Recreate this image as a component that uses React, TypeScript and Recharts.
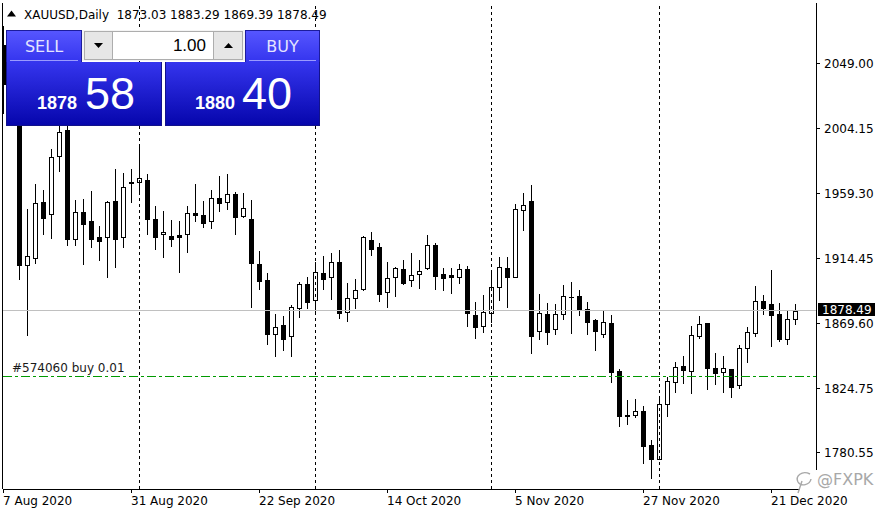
import React from 'react';
import { ComposedChart, Bar, XAxis, YAxis, ReferenceLine } from 'recharts';

const dates = [
  '7 Aug 2020','10 Aug 2020','11 Aug 2020','12 Aug 2020','13 Aug 2020','14 Aug 2020','17 Aug 2020','18 Aug 2020','19 Aug 2020','20 Aug 2020',
  '21 Aug 2020','24 Aug 2020','25 Aug 2020','26 Aug 2020','27 Aug 2020','28 Aug 2020','31 Aug 2020','1 Sep 2020','2 Sep 2020','3 Sep 2020',
  '4 Sep 2020','7 Sep 2020','8 Sep 2020','9 Sep 2020','10 Sep 2020','11 Sep 2020','14 Sep 2020','15 Sep 2020','16 Sep 2020','17 Sep 2020',
  '18 Sep 2020','21 Sep 2020','22 Sep 2020','23 Sep 2020','24 Sep 2020','25 Sep 2020','28 Sep 2020','29 Sep 2020','30 Sep 2020','1 Oct 2020',
  '2 Oct 2020','5 Oct 2020','6 Oct 2020','7 Oct 2020','8 Oct 2020','9 Oct 2020','12 Oct 2020','13 Oct 2020','14 Oct 2020','15 Oct 2020',
  '16 Oct 2020','19 Oct 2020','20 Oct 2020','21 Oct 2020','22 Oct 2020','23 Oct 2020','26 Oct 2020','27 Oct 2020','28 Oct 2020','29 Oct 2020',
  '30 Oct 2020','2 Nov 2020','3 Nov 2020','4 Nov 2020','5 Nov 2020','6 Nov 2020','9 Nov 2020','10 Nov 2020','11 Nov 2020','12 Nov 2020',
  '13 Nov 2020','16 Nov 2020','17 Nov 2020','18 Nov 2020','19 Nov 2020','20 Nov 2020','23 Nov 2020','24 Nov 2020','25 Nov 2020','26 Nov 2020',
  '27 Nov 2020','30 Nov 2020','1 Dec 2020','2 Dec 2020','3 Dec 2020','4 Dec 2020','7 Dec 2020','8 Dec 2020','9 Dec 2020','10 Dec 2020',
  '11 Dec 2020','14 Dec 2020','15 Dec 2020','16 Dec 2020','17 Dec 2020','18 Dec 2020','21 Dec 2020','22 Dec 2020','23 Dec 2020','24 Dec 2020',
];

const opens = [
  2062, 2035, 2028, 1910.5, 1915.0, 1953.8, 1945.3, 1985.3, 2003.5, 1928.0,
  1946.7, 1940.7, 1929.6, 1929.8, 1954.5, 1929.4, 1966.9, 1967.4, 1968.8, 1941.8,
  1931.5, 1930.1, 1931.0, 1931.5, 1946.2, 1945.0, 1940.9, 1956.3, 1953.8, 1959.1,
  1944.3, 1942.3, 1911.0, 1899.9, 1862.7, 1868.9, 1861.1, 1880.4, 1897.0, 1885.9,
  1904.6, 1901.8, 1912.2, 1878.1, 1887.3, 1893.5, 1927.4, 1922.5, 1891.5, 1901.8,
  1907.3, 1899.8, 1903.9, 1908.0, 1923.9, 1903.9, 1903.2, 1901.8, 1907.5, 1875.6,
  1868.2, 1877.0, 1895.4, 1908.0, 1902.2, 1948.1, 1954.5, 1864.6, 1876.3, 1866.0,
  1876.3, 1888.0, 1888.7, 1879.8, 1872.2, 1862.5, 1870.1, 1837.0, 1807.0, 1807.0,
  1809.4, 1785.9, 1776.4, 1814.2, 1829.6, 1840.4, 1837.4, 1861.3, 1870.1, 1838.8,
  1836.3, 1838.3, 1827.5, 1852.8, 1863.2, 1885.3, 1883.2, 1876.3, 1859.5, 1873.03,
];

const highs = [
  2075, 2049, 2031, 1949.0, 1966.2, 1962.1, 1990.4, 2010, 2015, 1955.2,
  1955.9, 1961.4, 1937.2, 1954.5, 1976.5, 1973.8, 1976.5, 1992.4, 1972.9, 1950.8,
  1947.6, 1941.3, 1940.7, 1951.0, 1966.2, 1954.7, 1962.1, 1971.7, 1973.1, 1960.7,
  1960.0, 1955.2, 1920.0, 1904.6, 1876.5, 1875.1, 1882.7, 1898.6, 1902.0, 1912.6,
  1916.5, 1918.8, 1920.7, 1897.7, 1900.4, 1930.1, 1933.1, 1925.3, 1912.2, 1909.1,
  1913.8, 1918.4, 1913.8, 1930.8, 1925.3, 1908.5, 1908.5, 1911.0, 1909.8, 1884.6,
  1889.4, 1904.6, 1915.8, 1915.6, 1952.4, 1959.8, 1965.5, 1890.3, 1883.9, 1883.4,
  1896.3, 1898.4, 1893.1, 1884.8, 1873.3, 1879.1, 1875.6, 1838.3, 1817.2, 1817.6,
  1813.2, 1789.3, 1818.1, 1832.8, 1843.4, 1847.5, 1868.2, 1875.1, 1870.5, 1849.4,
  1847.5, 1838.5, 1855.1, 1867.7, 1895.8, 1889.6, 1906.9, 1883.9, 1878.4, 1883.29,
];

const lows = [
  2015, 2009, 1900.9, 1862.2, 1911.9, 1931.9, 1929.1, 1975.4, 1924.3, 1924.3,
  1911.2, 1922.9, 1914.0, 1902.2, 1909.1, 1922.9, 1954.0, 1961.6, 1931.9, 1921.5,
  1916.0, 1923.4, 1905.7, 1919.5, 1940.9, 1936.5, 1936.0, 1947.8, 1949.2, 1931.9,
  1943.6, 1881.5, 1893.8, 1855.6, 1847.7, 1851.7, 1847.7, 1874.6, 1880.9, 1878.8,
  1893.5, 1886.6, 1874.0, 1871.9, 1880.9, 1893.0, 1917.4, 1885.6, 1881.5, 1889.1,
  1897.0, 1896.0, 1894.2, 1907.5, 1893.9, 1893.1, 1890.8, 1897.7, 1868.4, 1859.8,
  1863.9, 1870.8, 1886.2, 1881.1, 1901.8, 1934.5, 1849.8, 1859.5, 1855.6, 1862.5,
  1873.3, 1863.6, 1876.0, 1862.9, 1851.9, 1860.2, 1829.8, 1799.4, 1800.8, 1805.0,
  1773.5, 1763.5, 1776.0, 1806.3, 1822.9, 1828.7, 1821.8, 1859.8, 1824.5, 1828.0,
  1822.9, 1818.8, 1825.2, 1843.6, 1861.5, 1876.7, 1854.6, 1858.1, 1856.0, 1869.39,
];

const closes = [
  2035, 2028, 1910.3, 1916.5, 1952.9, 1942.9, 1984.6, 2001.9, 1928.5, 1946.7,
  1938.8, 1928.5, 1927.1, 1953.8, 1928.5, 1963.9, 1967.6, 1970.1, 1942.3, 1929.8,
  1933.1, 1928.0, 1929.8, 1946.0, 1945.0, 1939.5, 1956.3, 1953.3, 1959.1, 1943.6,
  1949.8, 1911.9, 1899.5, 1862.5, 1867.3, 1859.5, 1881.3, 1897.0, 1884.6, 1905.3,
  1900.5, 1912.6, 1877.4, 1887.3, 1892.9, 1929.4, 1921.5, 1890.5, 1901.1, 1908.0,
  1898.1, 1903.6, 1906.4, 1923.9, 1902.9, 1901.1, 1901.8, 1907.5, 1877.0, 1867.3,
  1877.7, 1895.1, 1909.1, 1902.2, 1948.7, 1951.6, 1861.5, 1877.0, 1864.3, 1876.3,
  1888.7, 1888.3, 1879.5, 1871.2, 1865.0, 1870.8, 1836.7, 1806.3, 1806.3, 1809.4,
  1785.4, 1776.2, 1814.2, 1830.2, 1840.1, 1837.7, 1861.8, 1869.4, 1838.8, 1836.0,
  1838.8, 1826.3, 1852.8, 1863.9, 1885.3, 1880.4, 1876.0, 1859.5, 1872.8, 1878.49,
];

const dateTickIndexes = [0, 16, 32, 48, 64, 80, 96];
const priceTicks = [2049.0, 2004.15, 1959.3, 1914.45, 1869.6, 1824.75, 1780.55];
const priceDomain = [1755.61, 2091.11];
const barDomain = [-0.0625, 101.5625];

const symbolTitle = 'XAUUSD,Daily';
const lastPrice = 1878.49;
const orderPrice = 1833.7;
const orderLabel = '#574060 buy 0.01';
const lotSize = '1.00';
const sellPrice = ['1878', '58'];
const buyPrice = ['1880', '40'];
const watermark = '@FXPK';

const last = opens.length - 1;
const titleValues = [opens[last], highs[last], lows[last], closes[last]].map((v) => v.toFixed(2)).join(' ');

const monthOf = (d: string) => d.split(' ')[1];
const monthStarts = dates
  .map((d, i) => (i > 0 && monthOf(d) !== monthOf(dates[i - 1]) ? i : -1))
  .filter((i) => i >= 0);

const data = dates.map((d, i) => ({
  i,
  date: d,
  open: opens[i],
  high: highs[i],
  low: lows[i],
  close: closes[i],
}));

const FONT = '"DejaVu Sans", Verdana, sans-serif';
const ORDER_GREEN = '#009a00';

const Candle = (props: any) => {
  const { x, y, width, height, payload } = props;
  if (payload == null || y == null || isNaN(y) || isNaN(height)) return null;
  const { open, high, low, close } = payload;
  const span = high - low || 1;
  const pix = (v: number) => y + ((high - v) / span) * height;
  const cx = Math.round(x + width / 2 - 0.5) + 0.5;
  const yH = Math.round(pix(high));
  const yL = Math.round(pix(low));
  const top = Math.round(pix(Math.max(open, close)));
  const bot = Math.round(pix(Math.min(open, close)));
  const bull = close > open;
  let body;
  if (bot <= top) {
    body = <rect x={cx - 2.5} y={top} width={5} height={1} fill="#000" />;
  } else if (bull) {
    body = <rect x={cx - 2} y={top + 0.5} width={4} height={bot - top} fill="#fff" stroke="#000" strokeWidth={1} />;
  } else {
    body = <rect x={cx - 2.5} y={top} width={5} height={bot - top + 1} fill="#000" />;
  }
  return (
    <g>
      <line x1={cx} x2={cx} y1={yH} y2={yL + 1} stroke="#000" strokeWidth={1} />
      {body}
    </g>
  );
};

const DateTick = (props: any) => {
  const { x, y, payload } = props;
  return (
    <text x={x - 0.5} y={y + 10} fontSize={12} fontFamily={FONT} fill="#000" textAnchor="start">
      {dates[payload.value]}
    </text>
  );
};

const PriceTick = (props: any) => {
  const { x, y, payload } = props;
  return (
    <text x={x} y={y + 4.5} fontSize={12} fontFamily={FONT} fill="#000" textAnchor="start">
      {Number(payload.value).toFixed(2)}
    </text>
  );
};

const LastPriceLabel = (props: any) => {
  const vb = props.viewBox || {};
  const rx = vb.x + vb.width + 2;
  const ry = vb.y;
  return (
    <g>
      <rect x={rx} y={ry - 8} width={57} height={13} fill="#000" />
      <text x={rx + 4} y={ry + 3} fontSize={12} fontFamily={FONT} fill="#fff">
        {lastPrice.toFixed(2)}
      </text>
    </g>
  );
};

const OrderLabel = (props: any) => {
  const vb = props.viewBox || {};
  const y0 = Math.round(vb.y) + 0.5;
  return (
    <g>
      <line
        x1={vb.x}
        x2={vb.x + vb.width}
        y1={y0}
        y2={y0}
        stroke={ORDER_GREEN}
        strokeWidth={1}
        strokeDasharray="9 3 3 3"
        style={{ shapeRendering: 'auto' }}
      />
      <text x={vb.x + 9} y={vb.y - 4} fontSize={12} fontFamily={FONT} fill="#1a1a1a">
        {orderLabel}
      </text>
    </g>
  );
};

const abs = (l: number, t: number, w: number, h: number, extra: React.CSSProperties = {}): React.CSSProperties => ({
  position: 'absolute',
  left: l,
  top: t,
  width: w,
  height: h,
  boxSizing: 'border-box',
  ...extra,
});

const headerBg = 'linear-gradient(#5656ff, #3434ee)';
const blockBg = 'linear-gradient(#3535ee, #0606ac)';

export default function App() {
  return (
    <div style={{ position: 'fixed', left: 0, top: 0, width: 888, height: 516, background: '#fff', overflow: 'hidden', fontFamily: FONT }}>
      <ComposedChart
        width={888}
        height={516}
        data={data}
        margin={{ top: 3, right: 0, bottom: 0, left: 3 }}
        style={{ shapeRendering: 'crispEdges' }}
      >
        <XAxis
          dataKey="i"
          type="number"
          domain={barDomain}
          allowDataOverflow
          ticks={dateTickIndexes}
          interval={0}
          height={27}
          tickSize={4}
          axisLine={{ stroke: '#000' }}
          tickLine={{ stroke: '#000' }}
          tick={<DateTick />}
        />
        <YAxis
          orientation="right"
          type="number"
          domain={priceDomain}
          allowDataOverflow
          ticks={priceTicks}
          interval={0}
          width={72}
          tickSize={4}
          tickMargin={4}
          axisLine={{ stroke: '#000' }}
          tickLine={{ stroke: '#000' }}
          tick={<PriceTick />}
        />
        {monthStarts.map((m) => (
          <ReferenceLine key={m} x={m} stroke="#000" strokeWidth={1} strokeDasharray="3 3" />
        ))}
        <ReferenceLine y={lastPrice} stroke="#c0c0c0" strokeWidth={1} label={<LastPriceLabel />} />
        <ReferenceLine y={orderPrice} stroke="none" strokeOpacity={0} label={<OrderLabel />} />
        <Bar
          dataKey={(d: any) => [d.low, d.high]}
          barSize={5}
          isAnimationActive={false}
          shape={(p: any) => <Candle {...p} />}
        />
      </ComposedChart>

      {/* left frame line */}
      <div style={abs(2, 3, 1, 486, { background: '#000' })} />

      {/* title */}
      <svg style={abs(7, 10, 10, 7)} width={10} height={7}>
        <polygon points="0,6.5 9,6.5 4.5,0.5" fill="#000" />
      </svg>
      <div style={abs(24, 8, 400, 14, { fontSize: 12, lineHeight: '14px', color: '#000', whiteSpace: 'pre' })}>
        {symbolTitle + '  ' + titleValues}
      </div>

      {/* trade panel */}
      <div style={abs(6, 30, 76, 32, { background: headerBg, border: '1px solid #1c1c9c', borderBottom: 'none' })} />
      <div style={abs(6, 30, 76, 32, { color: '#e4e4ff', fontSize: 16, lineHeight: '33px', textAlign: 'center' })}>SELL</div>
      <div style={abs(10, 60, 68, 1, { background: '#9a9aff' })} />

      <div style={abs(245, 30, 75, 32, { background: headerBg, border: '1px solid #1c1c9c', borderBottom: 'none' })} />
      <div style={abs(245, 30, 75, 32, { color: '#e4e4ff', fontSize: 16, lineHeight: '33px', textAlign: 'center' })}>BUY</div>
      <div style={abs(249, 60, 67, 1, { background: '#9a9aff' })} />

      <div style={abs(82, 30, 163, 31, { background: '#f4f4f4' })} />
      <div style={abs(84, 31, 29, 29, { background: '#e6e6e6', border: '1px solid #adadad' })} />
      <svg style={abs(94, 43, 9, 5)} width={9} height={5}>
        <polygon points="0,0 9,0 4.5,5" fill="#000" />
      </svg>
      <div
        style={abs(112, 31, 102, 29, {
          background: '#fff',
          border: '1px solid #adadad',
          fontFamily: '"Liberation Sans", Arial, sans-serif',
          fontSize: 17,
          lineHeight: '27px',
          textAlign: 'right',
          paddingRight: 7,
          color: '#000',
        })}
      >
        {lotSize}
      </div>
      <div style={abs(213, 31, 30, 29, { background: '#e6e6e6', border: '1px solid #adadad' })} />
      <svg style={abs(224, 43, 9, 5)} width={9} height={5}>
        <polygon points="0,5 9,5 4.5,0" fill="#000" />
      </svg>

      <div style={abs(6, 62, 156, 64, { background: blockBg, border: '1px solid #12128a', borderTop: 'none' })} />
      <div style={abs(165, 62, 155, 64, { background: blockBg, border: '1px solid #12128a', borderTop: 'none' })} />

      <div style={{ position: 'absolute', left: 37, top: 71, display: 'flex', alignItems: 'baseline', color: '#fff', fontFamily: '"Liberation Sans", Arial, sans-serif' }}>
        <span style={{ fontSize: 18, fontWeight: 'bold', lineHeight: '18px' }}>{sellPrice[0]}</span>
        <span style={{ fontSize: 45, lineHeight: '45px', marginLeft: 8 }}>{sellPrice[1]}</span>
      </div>
      <div style={{ position: 'absolute', left: 195, top: 71, display: 'flex', alignItems: 'baseline', color: '#fff', fontFamily: '"Liberation Sans", Arial, sans-serif' }}>
        <span style={{ fontSize: 18, fontWeight: 'bold', lineHeight: '18px' }}>{buyPrice[0]}</span>
        <span style={{ fontSize: 45, lineHeight: '45px', marginLeft: 7 }}>{buyPrice[1]}</span>
      </div>

      {/* watermark */}
      <div style={abs(800, 470, 88, 22, { background: '#fff' })} />
      <svg style={abs(792, 468, 26, 28)} width={26} height={28}>
        <path d="M18 6 C10 2, 3 8, 6 14 C9 19, 18 17, 19 11 M10 13 L6 25" fill="none" stroke="#a8a8a8" strokeWidth={1.4} />
      </svg>
      <div style={abs(817, 472, 70, 18, { color: '#a8a8a8', fontSize: 16, lineHeight: '16px', whiteSpace: 'pre' })}>{watermark}</div>
    </div>
  );
}
